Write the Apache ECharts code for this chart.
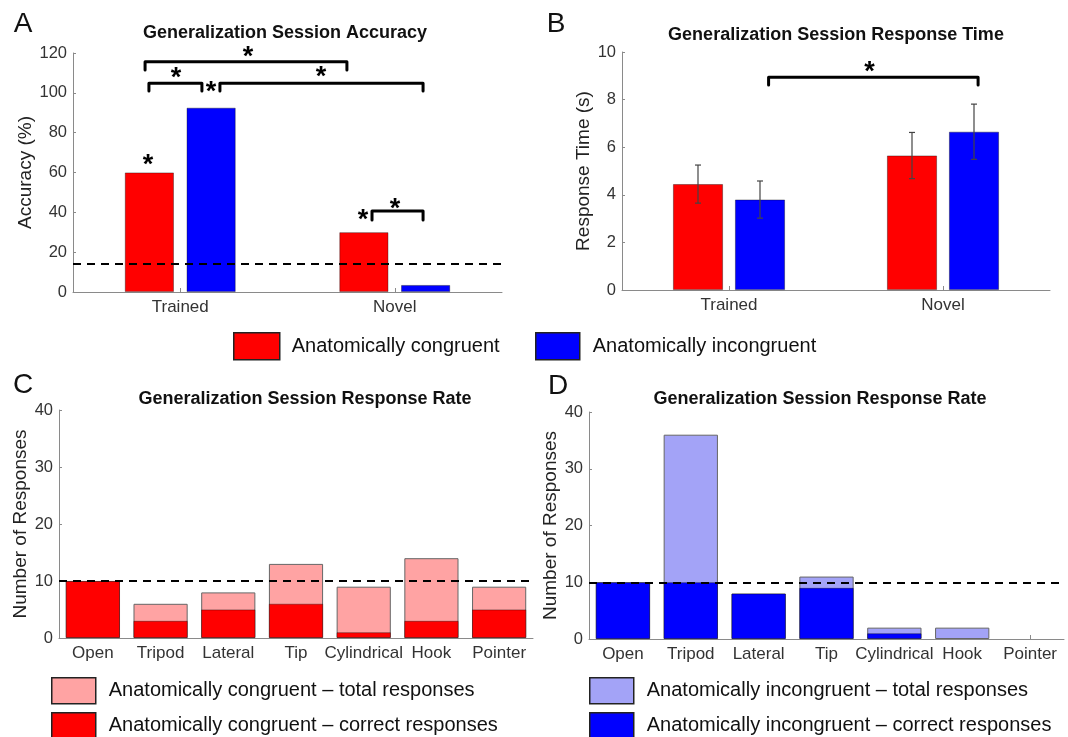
<!DOCTYPE html>
<html>
<head>
<meta charset="utf-8">
<script src="https://cdn.jsdelivr.net/npm/echarts@6/dist/echarts.min.js"></script>
<style>html,body{margin:0;padding:0;background:#fff}#c{width:1068px;height:737px}</style>
</head>
<body>
<div id="c"></div>
<script>
// ---------- data ----------
const accCats = ['Trained', 'Novel'];
const accCongruent = [60, 30];
const accIncongruent = [92.5, 3.5];
const accChance = 14.3;
const accTicks = {min: 0, max: 120, interval: 20};

const rtCats = ['Trained', 'Novel'];
const rtCongruent = [4.45, 5.65];
const rtIncongruent = [3.8, 6.65];
const rtCongruentErr = [0.8, 0.97];
const rtIncongruentErr = [0.78, 1.16];
const rtTicks = {min: 0, max: 10, interval: 2};

const graspCats = ['Open', 'Tripod', 'Lateral', 'Tip', 'Cylindrical', 'Hook', 'Pointer'];
const congTotal = [10, 6, 8, 13, 9, 14, 9];
const congCorrect = [10, 3, 5, 6, 1, 3, 5];
const incongTotal = [10, 36, 8, 11, 2, 2, 0];
const incongCorrect = [10, 10, 8, 9, 1, 0, 0];
const chanceResponses = 10;
const countTicks = {min: 0, max: 40, interval: 10};

// significance annotations (x in category units 0..2, y in data units): [x1, x2, y, legEndY]
const bracketsA = [[0.336, 1.277, 115.6, 111.5], [0.354, 0.601, 104.8, 100.9], [0.685, 1.632, 104.8, 100.9], [1.394, 1.632, 40.7, 36.2]];
const starsA = [[0.816, 120.0], [0.480, 109.5], [0.643, 102.9], [1.156, 110.0], [0.350, 65.8], [1.352, 38.2], [1.501, 43.7]];
const bracketsB = [[0.685, 1.664, 8.94, 8.61]];
const starsB = [[1.157, 9.33]];

// ---------- style ----------
const FONT = "'Liberation Sans', Arial, Helvetica, sans-serif";
const RED = '#ff0000', BLUE = '#0000ff', LRED = '#ffa3a3', LBLUE = '#a3a3f7';
const AXIS = '#8a8a8a', TXT = '#333';
const barWB = 50, gapB = 12;

function valueAxis(grid, t, name, gap) {
  return {
    type: 'value', gridIndex: grid, min: t.min, max: t.max, interval: t.interval,
    name: name, nameLocation: 'middle', nameGap: gap,
    nameTextStyle: {fontSize: 19, color: '#222', fontFamily: FONT},
    axisLine: {show: true, lineStyle: {color: AXIS, width: 1}},
    axisTick: {show: true, inside: true, length: 3, lineStyle: {color: AXIS}},
    axisLabel: {fontSize: 16.5, color: TXT, fontFamily: FONT, margin: 6},
    splitLine: {show: false}
  };
}
function catAxis(grid, cats) {
  return {
    type: 'category', gridIndex: grid, data: cats,
    axisLine: {lineStyle: {color: AXIS, width: 1}},
    axisTick: {show: true, inside: true, alignWithLabel: true, length: 4, lineStyle: {color: AXIS}},
    axisLabel: {fontSize: 17, color: TXT, fontFamily: FONT, margin: 7, interval: 0},
    splitLine: {show: false}
  };
}
function dashed(v) {
  return {silent: true, symbol: 'none', label: {show: false},
    lineStyle: {type: [8, 6], color: '#000', width: 2}, data: [{yAxis: v}]};
}
function bracketSeries(xi, yi, data) {
  return {
    type: 'custom', xAxisIndex: xi, yAxisIndex: yi, clip: false, silent: true, z: 10,
    data: data, encode: {x: [0, 1], y: [2, 3]},
    renderItem: function (params, api) {
      const x1 = api.value(0), x2 = api.value(1), y = api.value(2), yl = api.value(3);
      return {type: 'polyline', shape: {points: [api.coord([x1, yl]), api.coord([x1, y]), api.coord([x2, y]), api.coord([x2, yl])]},
        style: {stroke: '#000', lineWidth: 3, fill: null, lineJoin: 'round', lineCap: 'round'}};
    }
  };
}
function starSeries(xi, yi, data) {
  return {
    type: 'custom', xAxisIndex: xi, yAxisIndex: yi, clip: false, silent: true, z: 11,
    data: data, encode: {x: 0, y: 1},
    renderItem: function (params, api) {
      const p = api.coord([api.value(0), api.value(1)]);
      return {type: 'text', x: p[0], y: p[1] + 5,
        style: {text: '*', fontSize: 27, fontWeight: 'bold', fontFamily: FONT, fill: '#000',
          align: 'center', verticalAlign: 'middle', textAlign: 'center', textVerticalAlign: 'middle'}};
    }
  };
}
function errSeries(means, errs, side) {
  const rows = means.map((m, i) => [i, m, errs[i]]);
  return {
    type: 'custom', xAxisIndex: 1, yAxisIndex: 1, silent: true, z: 5, data: rows,
    encode: {x: 0, y: 1},
    renderItem: function (params, api) {
      const i = api.value(0), m = api.value(1), e = api.value(2);
      const off = side * (barWB + gapB) / 2;
      const top = api.coord([i, m + e]), bot = api.coord([i, m - e]);
      const x = top[0] + off, c = 3;
      const st = {stroke: '#444', lineWidth: 1.2};
      return {type: 'group', children: [
        {type: 'line', shape: {x1: x, y1: top[1], x2: x, y2: bot[1]}, style: st},
        {type: 'line', shape: {x1: x - c, y1: top[1], x2: x + c, y2: top[1]}, style: st},
        {type: 'line', shape: {x1: x - c, y1: bot[1], x2: x + c, y2: bot[1]}, style: st}
      ]};
    }
  };
}
function gtext(text, x, y, size, weight) {
  return {type: 'text', x: x, y: y, silent: true,
    style: {text: text, fontSize: size, fontWeight: weight || 'normal', fontFamily: FONT, fill: '#111',
      align: 'center', verticalAlign: 'middle', textAlign: 'center', textVerticalAlign: 'middle'}};
}
// zero-height bars get no outline
function barData(arr) {
  return arr.map(v => v === 0 ? {value: v, itemStyle: {borderWidth: 0}} : v);
}
const solidBorder = {borderColor: 'rgba(0,0,0,0.45)', borderWidth: 0.8};
const lightBorder = {borderColor: '#666', borderWidth: 1};
const legText = {fontSize: 20, color: '#111', fontFamily: FONT};

function legendItem(name, left, top, w, h, pad) {
  return {data: [name], left: left, top: top, padding: 0, icon: 'rect',
    itemWidth: w, itemHeight: h, selectedMode: false,
    itemStyle: {borderColor: '#222', borderWidth: 1.5},
    textStyle: Object.assign({padding: [0, 0, 0, pad]}, legText)};
}

const option = {
  animation: false,
  backgroundColor: '#fff',
  grid: [
    {left: 73, top: 53, width: 429, height: 239},
    {left: 622, top: 52, width: 428, height: 238},
    {left: 59, top: 410, width: 474, height: 228},
    {left: 589, top: 412, width: 475, height: 227}
  ],
  xAxis: [
    catAxis(0, accCats), catAxis(1, rtCats), catAxis(2, graspCats), catAxis(3, graspCats),
    {type: 'value', gridIndex: 0, min: 0, max: 2, show: false},
    {type: 'value', gridIndex: 1, min: 0, max: 2, show: false}
  ],
  yAxis: [
    valueAxis(0, accTicks, 'Accuracy (%)', 36),
    valueAxis(1, rtTicks, 'Response Time (s)', 28),
    valueAxis(2, countTicks, 'Number of Responses', 27),
    valueAxis(3, countTicks, 'Number of Responses', 28)
  ],
  legend: [
    legendItem('Anatomically congruent', 233, 332, 46, 27, 7),
    legendItem('Anatomically incongruent', 535, 332, 44, 27, 8),
    legendItem('Anatomically congruent – total responses', 51, 677, 44, 26, 8),
    legendItem('Anatomically congruent – correct responses', 51, 712, 44, 26, 8),
    legendItem('Anatomically incongruent – total responses', 589, 677, 44, 26, 8),
    legendItem('Anatomically incongruent – correct responses', 589, 712, 44, 26, 8)
  ],
  graphic: [
    gtext('A', 23, 24, 28), gtext('B', 556, 24, 28), gtext('C', 23, 385, 28), gtext('D', 558, 386, 28),
    gtext('Generalization Session Accuracy', 285, 33, 18, 'bold'),
    gtext('Generalization Session Response Time', 836, 35, 18, 'bold'),
    gtext('Generalization Session Response Rate', 305, 399, 18, 'bold'),
    gtext('Generalization Session Response Rate', 820, 399, 18, 'bold')
  ],
  series: [
    // A
    {name: 'Anatomically congruent', type: 'bar', xAxisIndex: 0, yAxisIndex: 0, data: accCongruent,
      barWidth: 49, barGap: '26%', itemStyle: Object.assign({color: RED}, solidBorder), markLine: dashed(accChance)},
    {name: 'Anatomically incongruent', type: 'bar', xAxisIndex: 0, yAxisIndex: 0, data: accIncongruent,
      barWidth: 49, barGap: '26%', itemStyle: Object.assign({color: BLUE}, solidBorder)},
    bracketSeries(4, 0, bracketsA),
    starSeries(4, 0, starsA),
    // B
    {name: 'Anatomically congruent', type: 'bar', xAxisIndex: 1, yAxisIndex: 1, data: rtCongruent,
      barWidth: barWB, barGap: (gapB / barWB * 100) + '%', itemStyle: Object.assign({color: RED}, solidBorder)},
    {name: 'Anatomically incongruent', type: 'bar', xAxisIndex: 1, yAxisIndex: 1, data: rtIncongruent,
      barWidth: barWB, barGap: (gapB / barWB * 100) + '%', itemStyle: Object.assign({color: BLUE}, solidBorder)},
    errSeries(rtCongruent, rtCongruentErr, -1),
    errSeries(rtIncongruent, rtIncongruentErr, 1),
    bracketSeries(5, 1, bracketsB),
    starSeries(5, 1, starsB),
    // C
    {name: 'Anatomically congruent – total responses', type: 'bar', xAxisIndex: 2, yAxisIndex: 2, data: barData(congTotal),
      barGap: '-100%', barCategoryGap: '20%', itemStyle: Object.assign({color: LRED}, lightBorder)},
    {name: 'Anatomically congruent – correct responses', type: 'bar', xAxisIndex: 2, yAxisIndex: 2, data: barData(congCorrect),
      barGap: '-100%', barCategoryGap: '20%', itemStyle: Object.assign({color: RED}, solidBorder), markLine: dashed(chanceResponses)},
    // D
    {name: 'Anatomically incongruent – total responses', type: 'bar', xAxisIndex: 3, yAxisIndex: 3, data: barData(incongTotal),
      barGap: '-100%', barCategoryGap: '20%', itemStyle: Object.assign({color: LBLUE}, lightBorder)},
    {name: 'Anatomically incongruent – correct responses', type: 'bar', xAxisIndex: 3, yAxisIndex: 3, data: barData(incongCorrect),
      barGap: '-100%', barCategoryGap: '20%', itemStyle: Object.assign({color: BLUE}, solidBorder), markLine: dashed(chanceResponses)}
  ]
};
const chart = echarts.init(document.getElementById('c'), null, {renderer: 'canvas'});
chart.setOption(option);
</script>
</body>
</html>
